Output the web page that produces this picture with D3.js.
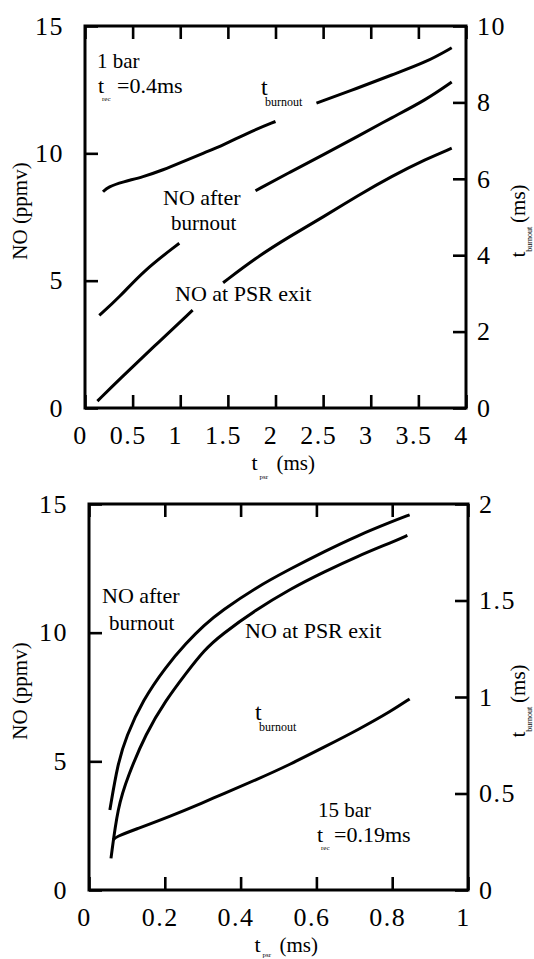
<!DOCTYPE html>
<html><head><meta charset="utf-8">
<script src="https://cdn.jsdelivr.net/npm/d3@7"></script>
<style>
html,body{margin:0;padding:0;background:#fff;}
</style></head>
<body>
<svg id="chart" width="534" height="959"></svg>
<script>
// ---------- data: top panel (1 bar) ----------
const topXTicks = [0, 0.5, 1, 1.5, 2, 2.5, 3, 3.5, 4];
const topXTickLabels = ["0", "0.5", "1", "1.5", "2", "2.5", "3", "3.5", "4"];
const topYTicks = [0, 5, 10, 15];
const topYRTicks = [0, 2, 4, 6, 8, 10];

const top_tburn_x  = [0.189, 0.241, 0.399, 0.609, 0.819, 1.029, 1.239, 1.449, 1.732, 2.0, 2.2, 2.43, 2.86, 3.22, 3.58, 3.85];
const top_tburn_ms = [5.66, 5.79, 5.92, 6.05, 6.23, 6.45, 6.67, 6.88, 7.23, 7.5, null, 7.98, 8.37, 8.72, 9.05, 9.43];

const top_NOafter_x    = [0.15, 0.36, 0.61, 0.99, 1.4, 1.79, 2.15, 2.51, 2.86, 3.22, 3.58, 3.85];
const top_NOafter_ppmv = [3.64, 4.34, 5.38, 6.47, null, 8.53, 9.26, 9.96, 10.66, 11.4, 12.1, 12.8];

const top_NOpsr_x    = [0.13, 0.36, 0.72, 1.13, 1.3, 1.45, 1.79, 2.15, 2.51, 2.86, 3.22, 3.58, 3.85];
const top_NOpsr_ppmv = [0.27, 1.12, 2.4, 3.84, null, 4.92, 5.89, 6.74, 7.52, 8.33, 9.1, 9.77, 10.2];

// ---------- data: bottom panel (15 bar) ----------
const botXTicks = [0, 0.2, 0.4, 0.6, 0.8, 1];
const botXTickLabels = ["0", "0.2", "0.4", "0.6", "0.8", "1"];
const botYTicks = [0, 5, 10, 15];
const botYRTicks = [0, 0.5, 1, 1.5, 2];
const botYRTickLabels = ["0", "0.5", "1", "1.5", "2"];

const bot_NOafter_x    = [0.055, 0.076, 0.098, 0.142, 0.203, 0.256, 0.304, 0.35, 0.44, 0.53, 0.62, 0.71, 0.8, 0.846];
const bot_NOafter_ppmv = [3.11, 4.92, 5.96, 7.38, 8.68, 9.59, 10.3, 10.85, 11.75, 12.47, 13.15, 13.78, 14.32, 14.58];

const bot_NOpsr_x    = [0.058, 0.076, 0.102, 0.15, 0.203, 0.256, 0.304, 0.35, 0.44, 0.53, 0.62, 0.71, 0.8, 0.84];
const bot_NOpsr_ppmv = [1.23, 3.24, 4.40, 6.09, 7.38, 8.42, 9.33, 9.93, 10.88, 11.69, 12.36, 12.98, 13.52, 13.78];

const bot_tburn_x  = [0.064, 0.071, 0.124, 0.212, 0.304, 0.35, 0.44, 0.53, 0.62, 0.71, 0.8, 0.846];
const bot_tburn_ms = [0.26, 0.276, 0.315, 0.38, 0.455, 0.495, 0.57, 0.65, 0.74, 0.83, 0.93, 0.99];

// ---------- drawing ----------
const FONT = '"Liberation Serif"';
const svg = d3.select("#chart");
svg.append("rect").attr("width", 534).attr("height", 959).attr("fill", "#fff");

function zip(xs, ys) { return xs.map((x, i) => ({x: x, y: ys[i]})); }

function txt(g, x, y, s, size) {
  return g.append("text").attr("x", x).attr("y", y)
    .style("font-family", FONT).style("font-size", size).attr("fill", "#000").text(s);
}

function panel(cfg) {
  const g = svg.append("g");
  const x = d3.scaleLinear().domain(cfg.xDomain).range([cfg.left, cfg.right]);
  const yL = d3.scaleLinear().domain([0, 15]).range([cfg.bottom, cfg.top]);
  const yR = d3.scaleLinear().domain(cfg.yRDomain).range([cfg.bottom, cfg.top]);
  const T = 13;

  const ax = (sel) => {
    sel.select(".domain").remove();
    sel.selectAll(".tick line").attr("stroke", "#000").attr("stroke-width", 2.6);
    sel.selectAll(".tick text").attr("fill", "#000")
      .style("font-family", FONT).style("font-size", "26px").style("letter-spacing", "1.5px");
  };

  g.append("g").attr("transform", `translate(0,${cfg.bottom})`)
    .call(d3.axisBottom(x).tickValues(cfg.xTicks).tickFormat((d, i) => cfg.xTickLabels[i])
      .tickSize(-T).tickSizeOuter(0).tickPadding(18)).call(ax)
    .selectAll(".tick text").attr("dx", "-5");
  g.append("g").attr("transform", `translate(0,${cfg.top})`)
    .call(d3.axisTop(x).tickValues(cfg.xTicks).tickFormat("").tickSize(-T).tickSizeOuter(0)).call(ax);
  g.append("g").attr("transform", `translate(${cfg.left},0)`)
    .call(d3.axisLeft(yL).tickValues(cfg.yTicks).tickSize(-T).tickSizeOuter(0).tickPadding(21)).call(ax);
  g.append("g").attr("transform", `translate(${cfg.right},0)`)
    .call(d3.axisRight(yR).tickValues(cfg.yRTicks).tickFormat((d, i) => cfg.yRTickLabels[i])
      .tickSize(-T).tickSizeOuter(0).tickPadding(11)).call(ax);

  g.append("rect").attr("x", cfg.left).attr("y", cfg.top)
    .attr("width", cfg.right - cfg.left).attr("height", cfg.bottom - cfg.top)
    .attr("fill", "none").attr("stroke", "#000").attr("stroke-width", 3);

  const lineL = d3.line().defined(d => d.y != null).x(d => x(d.x)).y(d => yL(d.y)).curve(d3.curveBasis);
  const lineR = d3.line().defined(d => d.y != null).x(d => x(d.x)).y(d => yR(d.y)).curve(d3.curveBasis);
  cfg.seriesL.forEach(s => g.append("path").datum(s).attr("d", lineL)
    .attr("fill", "none").attr("stroke", "#000").attr("stroke-width", 3));
  cfg.seriesR.forEach(s => g.append("path").datum(s).attr("d", lineR)
    .attr("fill", "none").attr("stroke", "#000").attr("stroke-width", 3));

  // axis titles
  const cx = (cfg.left + cfg.right) / 2, cy = (cfg.top + cfg.bottom) / 2;
  txt(g, cx - 24, cfg.bottom + 62, "t", "22px");
  txt(g, cx - 16, cfg.bottom + (cfg.subPsrDy || 71), "psr", "7px");
  txt(g, cx + 1, cfg.bottom + 62, "(ms)", "21px");

  g.append("text").attr("transform", `translate(27,${cy - 6}) rotate(-90)`)
    .attr("text-anchor", "middle").style("font-size", "21px").style("font-family", FONT).text("NO (ppmv)");

  const rt = g.append("text").attr("transform", `translate(525,${cy + 4}) rotate(-90)`)
    .attr("text-anchor", "middle").style("font-size", "21px").style("font-family", FONT);
  rt.append("tspan").text("t");
  rt.append("tspan").style("font-size", "8px").attr("dy", 7).text("burnout");
  rt.append("tspan").attr("dy", -7).attr("dx", 4).text("(ms)");
  return g;
}

function sub(g, x, y, main, subs, rest, mainSize, subSize, restDx) {
  txt(g, x, y, main, mainSize);
  txt(g, x + 4, y + (subSize > 10 ? 11 : 8), subs, subSize + "px");
  if (rest) txt(g, x + restDx, y, rest, "22px");
}

const g1 = panel({
  left: 85, right: 466, top: 26, bottom: 408,
  xDomain: [0, 4], yRDomain: [0, 10],
  xTicks: topXTicks, xTickLabels: topXTickLabels, yTicks: topYTicks,
  yRTicks: topYRTicks, yRTickLabels: topYRTicks.map(String),
  seriesL: [zip(top_NOafter_x, top_NOafter_ppmv), zip(top_NOpsr_x, top_NOpsr_ppmv)],
  seriesR: [zip(top_tburn_x, top_tburn_ms)]
});
txt(g1, 97, 68, "1 bar", "21px");
sub(g1, 98, 93, "t", "rec", "=0.4ms", "22px", 7, 19);
sub(g1, 261, 95, "t", "burnout", null, "24px", 12);
txt(g1, 163, 205, "NO after", "22px");
txt(g1, 171, 230, "burnout", "21px");
txt(g1, 175, 301, "NO at PSR exit", "22px");

const g2 = panel({
  left: 89, right: 468, top: 504, bottom: 890,
  xDomain: [0, 1], yRDomain: [0, 2], subPsrDy: 67,
  xTicks: botXTicks, xTickLabels: botXTickLabels, yTicks: botYTicks,
  yRTicks: botYRTicks, yRTickLabels: botYRTickLabels,
  seriesL: [zip(bot_NOafter_x, bot_NOafter_ppmv), zip(bot_NOpsr_x, bot_NOpsr_ppmv)],
  seriesR: [zip(bot_tburn_x, bot_tburn_ms)]
});
txt(g2, 102, 603, "NO after", "22px");
txt(g2, 109, 630, "burnout", "21px");
txt(g2, 245, 638, "NO at PSR exit", "22px");
sub(g2, 255, 720, "t", "burnout", null, "24px", 12);
txt(g2, 318, 817, "15 bar", "21px");
sub(g2, 317, 842, "t", "rec", "=0.19ms", "22px", 7, 17);
</script>
</body></html>
